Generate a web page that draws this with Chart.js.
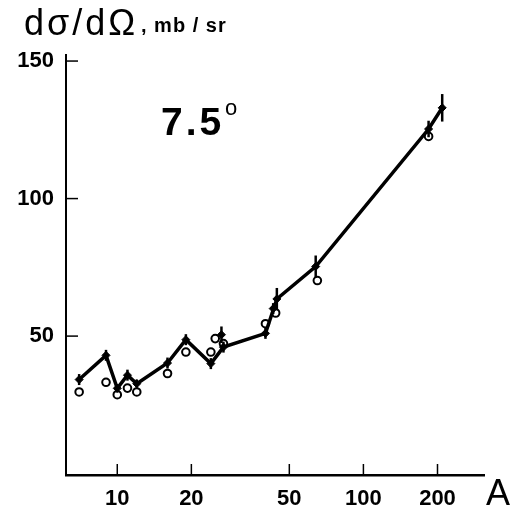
<!DOCTYPE html>
<html>
<head>
<meta charset="utf-8">
<script src="https://cdn.jsdelivr.net/npm/chart.js@4/dist/chart.umd.min.js"></script>
<style>
  html, body { margin: 0; padding: 0; background: #fff; }
  #wrap { width: 510px; height: 511px; position: relative; }
</style>
</head>
<body>
<div id="wrap"><canvas id="chart" width="510" height="511"></canvas></div>
<script>
// Datos (A = numero masico)
const filledA = [7, 9, 10, 11, 12, 16, 19, 24, 26.5, 27, 40, 43, 44.5, 64, 184, 209];
const filledY = [34.2, 43, 31, 35.8, 32.7, 40.2, 48.7, 40, 50.5, 46, 51, 60, 63.5, 75.3, 125.3, 133];
const filledErr = [2, 2, 1.5, 2, 1.5, 2, 2, 2, 3, 2, 2, 2, 4, 4, 3, 5];
const lineOrder = [0, 1, 2, 3, 4, 5, 6, 7, 9, 10, 12, 13, 14, 15];

const openA = [7, 9, 10, 11, 12, 16, 19, 24, 25, 27, 40, 44, 65, 184];
const openY = [29.7, 33.2, 28.7, 31.1, 29.7, 36.4, 44.2, 44.2, 49.1, 47.3, 54.5, 58.4, 70.2, 122.6];

const xTicks = [10, 20, 50, 100, 200];
const yTicks = [50, 100, 150];

const filledPts = filledA.map((a, i) => ({ x: a, y: filledY[i] }));
const linePts = lineOrder.map(i => ({ x: filledA[i], y: filledY[i] }));
const openPts = openA.map((a, i) => ({ x: a, y: openY[i] }));

// Barras de error y marcas de escala hacia dentro
const extrasPlugin = {
    id: 'extras',
    afterDatasetsDraw(chart) {
        const ctx = chart.ctx;
        const xs = chart.scales.x, ys = chart.scales.y;
        ctx.save();
        ctx.strokeStyle = '#000';
        ctx.lineWidth = 2.5;
        filledA.forEach((a, i) => {
            const px = xs.getPixelForValue(a);
            ctx.beginPath();
            ctx.moveTo(px, ys.getPixelForValue(filledY[i] - filledErr[i]));
            ctx.lineTo(px, ys.getPixelForValue(filledY[i] + filledErr[i]));
            ctx.stroke();
        });
        ctx.lineWidth = 1.5;
        const area = chart.chartArea;
        yTicks.forEach(v => {
            const py = ys.getPixelForValue(v);
            ctx.beginPath();
            ctx.moveTo(area.left, py);
            ctx.lineTo(area.left + 12, py);
            ctx.stroke();
        });
        xTicks.forEach(v => {
            const px = xs.getPixelForValue(v);
            ctx.beginPath();
            ctx.moveTo(px, area.bottom);
            ctx.lineTo(px, area.bottom - 11);
            ctx.stroke();
        });
        ctx.restore();
    },
    afterDraw(chart) {
        const ctx = chart.ctx;
        ctx.save();
        ctx.fillStyle = '#000';
        ctx.textBaseline = 'alphabetic';
        ctx.letterSpacing = '3px';
        ctx.font = '36px "Liberation Sans"';
        ctx.fillText('dσ/dΩ', 24, 35);
        ctx.letterSpacing = '1px';
        ctx.font = 'bold 20px "Liberation Sans"';
        ctx.fillText(', mb / sr', 141, 32);
        ctx.letterSpacing = '3px';
        ctx.font = 'bold 39px "Liberation Sans"';
        ctx.fillText('7.5', 161, 135);
        ctx.letterSpacing = '0px';
        ctx.font = '22px "Liberation Sans"';
        ctx.fillText('o', 225, 115);
        ctx.font = '36px "Liberation Sans"';
        ctx.fillText('A', 486, 505);
        ctx.restore();
    }
};

new Chart(document.getElementById('chart'), {
    type: 'scatter',
    data: {
        datasets: [
            {
                data: linePts,
                showLine: true,
                borderColor: '#000',
                borderWidth: 3.5,
                pointRadius: 0,
                fill: false
            },
            {
                data: filledPts,
                showLine: false,
                pointStyle: 'rectRot',
                pointRadius: 4,
                backgroundColor: '#000',
                borderColor: '#000',
                borderWidth: 1
            },
            {
                data: openPts,
                showLine: false,
                pointStyle: 'circle',
                pointRadius: 3.8,
                backgroundColor: '#fff',
                borderColor: '#000',
                borderWidth: 2
            }
        ]
    },
    options: {
        responsive: false,
        animation: false,
        layout: { padding: { top: 55, right: 26, left: 0, bottom: 0 } },
        plugins: { legend: { display: false }, tooltip: { enabled: false } },
        scales: {
            x: {
                type: 'logarithmic',
                min: 6.19,
                max: 309,
                afterBuildTicks: s => { s.ticks = xTicks.map(v => ({ value: v })); },
                afterFit: s => { s.height = 36; },
                grid: { display: false, drawTicks: false },
                border: { display: true, color: '#000', width: 2.5 },
                ticks: {
                    color: '#000',
                    padding: 11,
                    maxRotation: 0,
                    font: { family: 'Liberation Sans', size: 22, weight: 'bold' },
                    callback: v => String(v)
                }
            },
            y: {
                min: -0.5,
                max: 152.2,
                afterBuildTicks: s => { s.ticks = yTicks.map(v => ({ value: v })); },
                afterFit: s => { s.width = 66; },
                grid: { display: false, drawTicks: false },
                border: { display: true, color: '#000', width: 2 },
                ticks: {
                    color: '#000',
                    padding: 12,
                    font: { family: 'Liberation Sans', size: 22, weight: 'bold' },
                    callback: v => String(v)
                }
            }
        }
    },
    plugins: [extrasPlugin]
});
</script>
</body>
</html>
